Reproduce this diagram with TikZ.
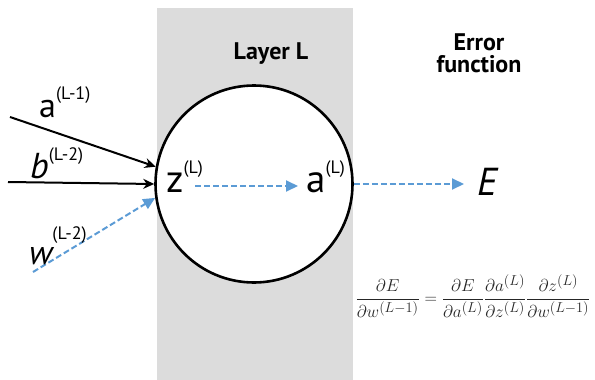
\documentclass[tikz,border=0pt]{standalone}
\usepackage{fontspec}
\usepackage{amsmath}
\setmainfont{PT Sans}
\usetikzlibrary{arrows.meta}
\definecolor{layergray}{HTML}{DCDCDC}
\definecolor{gradblue}{HTML}{5B9BD5}
\tikzset{
  fwd/.style={line width=2pt,-{Stealth[length=11pt,width=10pt]}},
  grad/.style={gradblue,line width=2pt,dash pattern=on 6pt off 3pt,-{Triangle[length=12pt,width=11pt]}},
  big/.style={font=\fontsize{34}{36}\selectfont,inner sep=0pt},
  bigger/.style={font=\fontsize{39}{40}\selectfont,inner sep=0pt},
  head/.style={font=\fontsize{24}{22}\selectfont\bfseries,align=center}
}
\newcommand{\layersup}[2][18pt]{\raisebox{#1}{\upshape\fontsize{18}{18}\selectfont(#2)}}
\begin{document}
\begin{tikzpicture}[x=1pt,y=-1pt]
  \useasboundingbox (0,0) rectangle (595,380);
  \fill[layergray] (157,8) rectangle (353,380);
  \node[draw,circle,fill=white,line width=2.6pt,minimum size=197pt,inner sep=0pt] (neuron) at (254,184) {};
  \node[head] (layer) at (271,54) {Layer L};
  \node[head] (errf) at (479,53) {Error\\function};
  % inputs
  \coordinate (ain) at (10,117);
  \coordinate (bin) at (8,182);
  \coordinate (win) at (33,272);
  \draw[fwd] (ain) -- (neuron.170);
  \draw[fwd] (bin) -- (neuron.180);
  \draw[grad] (win) -- (neuron.188);
  \node[big,anchor=base west] (alab) at (39,117) {a\layersup{L-1}};
  \node[big,anchor=base west,font=\fontsize{36}{36}\selectfont] (blab) at (30,178) {\itshape b\layersup{L-2}};
  \node[big,anchor=base west] (wlab) at (29,264) {\itshape w\layersup[25pt]{L-2}};
  % inside the layer
  \node[bigger,anchor=base west] (z) at (166,192) {z\layersup[19pt]{L}};
  \node[bigger,anchor=base west] (a) at (306,192) {a\layersup[19pt]{L}};
  \node[bigger,anchor=base west] (E) at (477,195) {\itshape E};
  \coordinate (zout) at (195,186);
  \coordinate (ain2) at (298,186);
  \draw[grad] (zout) -- (ain2);
  \draw[grad,shorten >=13pt] (neuron.east) -- (neuron.east -| E.west);
  \node[text=black!85,font=\fontsize{19}{22}\selectfont] (chain) at (473,296)
    {$\displaystyle\frac{\partial E}{\partial w^{(L-1)}}=\frac{\partial E}{\partial a^{(L)}}\frac{\partial a^{(L)}}{\partial z^{(L)}}\frac{\partial z^{(L)}}{\partial w^{(L-1)}}$};
\end{tikzpicture}
\end{document}
